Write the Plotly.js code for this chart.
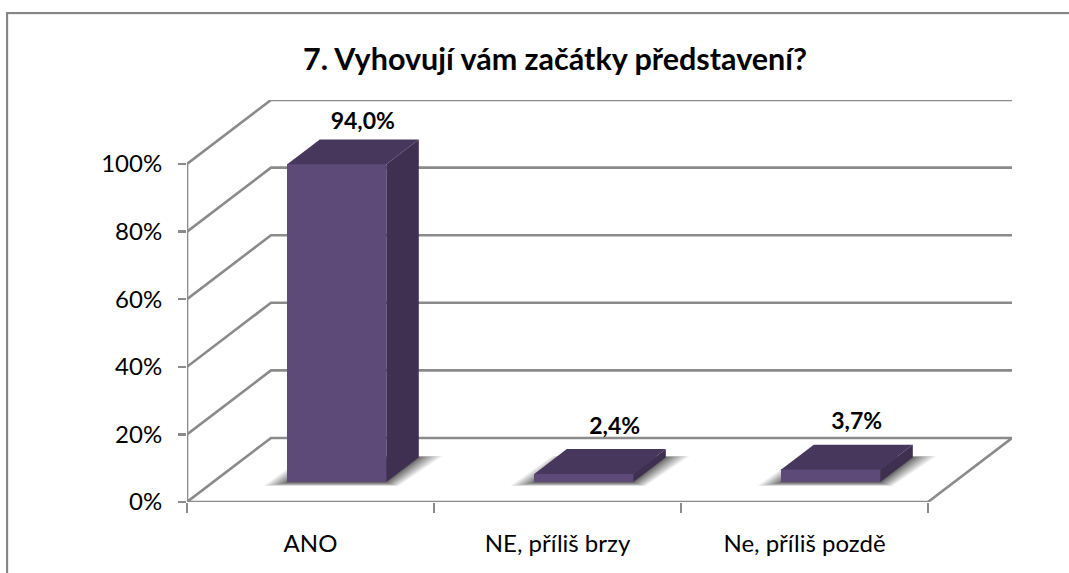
<!DOCTYPE html>
<html><head><meta charset="utf-8">
<script src="https://cdn.plot.ly/plotly-3.0.1.min.js"></script>
<style>html,body{margin:0;padding:0;background:#fff;overflow:hidden}#c{width:1069px;height:573px}</style>
</head><body><div id="c"></div>
<script>
const titleText = "7. Vyhovují vám začátky představení?";
const categories = ["ANO", "NE, příliš brzy", "Ne, příliš pozdě"];
const values = [94.0, 2.4, 3.7];
const yTicks = [0, 20, 40, 60, 80, 100];

// oblique projection, expressed in axis units
const PXX = 1 / 247, PXY = 1 / 3.38;     // axis units per pixel
const DX = 84 * PXX, DY = 64 * PXY;      // wall depth
const BAR_W = 99 * PXX;
const D0 = 0.3125, D1 = 0.70;            // bar position along the depth
const GRID = "#8b8b8b", FRONT = "#5e4a78", TOP = "#48375d", SIDE = "#3f3052";
const pt = (x, y, d) => [x + d * DX, y + d * DY];

const traces = [];
function poly(pts, color, axes) {
  const xs = pts.map(p => p[0]), ys = pts.map(p => p[1]);
  xs.push(xs[0]); ys.push(ys[0]);
  traces.push(Object.assign({type:"scatter", mode:"lines", x:xs, y:ys, fill:"toself", fillcolor:color,
    line:{width:0}, hoverinfo:"skip", showlegend:false, cliponaxis:false}, axes||{}));
}
function line(pts) {
  traces.push({type:"scatter", mode:"lines", x:pts.map(p=>p[0]), y:pts.map(p=>p[1]),
    line:{color:GRID, width:2.6}, hoverinfo:"skip", showlegend:false, cliponaxis:false});
}
// walls and floor
yTicks.forEach(v => line([pt(0,v,0), pt(0,v,1), pt(categories.length,v,1)]));
line([[0,0],[0,100]]);
line([pt(0,0,0), pt(categories.length,0,0), pt(categories.length,0,1)]);

// soft floor shadows
const LAYERS = 16;
categories.forEach((c,i) => {
  const xc = i + 0.5, x0 = xc - BAR_W/2, x1 = xc + BAR_W/2;
  for (let k = 0; k < LAYERS; k++) {
    const f = 1 - k / LAYERS, t = 24 * PXX * Math.pow(f, 1.6), e = 4 * PXY * f;
    const a = pt(x0,0,D0), b = pt(x1,0,D0), c2 = pt(x1,0,D1), d = pt(x0,0,D1);
    poly([[a[0]-t,a[1]-e],[b[0]+t*0.5,b[1]-e],[c2[0]+t,c2[1]+e*0.3],[d[0]-t*0.6,d[1]+e*0.3]], "rgba(0,0,0,0.055)");
  }
});

// bars: front faces through a bar trace, top and side faces as projected polygons
const A2 = {xaxis:"x2", yaxis:"y2"};
traces.push({type:"bar", xaxis:"x2", yaxis:"y2",
  x:categories.map((c,i)=>pt(i+0.5,0,D0)[0]), y:values, base:categories.map(()=>D0*DY),
  width:BAR_W, marker:{color:FRONT, line:{width:0}}, hoverinfo:"skip", showlegend:false});
values.forEach((v,i) => {
  const x0 = i+0.5-BAR_W/2, x1 = i+0.5+BAR_W/2;
  poly([pt(x0,v,D0),pt(x1,v,D0),pt(x1,v,D1),pt(x0,v,D1)], TOP, A2);
  poly([pt(x1,0,D0),pt(x1,v,D0),pt(x1,v,D1),pt(x1,0,D1)], SIDE, A2);
});
// data labels
const labelNudgeX = [0, 5, 0], labelNudgeY = [16, 21, 21];
traces.push({type:"scatter", mode:"text", xaxis:"x2", yaxis:"y2",
  x:values.map((v,i)=>pt(i+0.5,0,D0)[0]+(26+labelNudgeX[i])*PXX),
  y:values.map((v,i)=>pt(0,v,D1)[1]+labelNudgeY[i]*PXY),
  text:values.map(v=>"<b>"+v.toFixed(1).replace(".",",")+"%</b>"),
  textposition:"middle center", textfont:{family:"Lato, sans-serif", size:23, color:"#000"},
  hoverinfo:"skip", showlegend:false, cliponaxis:false});

const xRange = [0, categories.length + DX], yRange = [0, 100 + DY];
const font = {family:"Lato, sans-serif", size:24, color:"#000"};
const layout = {
  width:1069, height:573, autosize:false, showlegend:false, bargap:0,
  paper_bgcolor:"#fff", plot_bgcolor:"rgba(0,0,0,0)",
  margin:{l:187, r:57, t:100, b:71, pad:0},
  font:font,
  title:{text:"<b>"+titleText+"</b>", font:{family:"Lato, sans-serif", size:30.5, color:"#000"},
    xref:"container", yref:"container", x:555/1069, xanchor:"center", y:1-59/573, yanchor:"middle"},
  xaxis:{range:xRange, tickmode:"array", tickvals:categories.map((c,i)=>i+0.5), ticktext:categories,
    showgrid:false, zeroline:false, showline:false, ticks:"", ticklabelstandoff:25, tickfont:font, fixedrange:true},
  yaxis:{range:yRange, tickmode:"array", tickvals:yTicks, ticktext:yTicks.map(v=>v+"%"),
    showgrid:false, zeroline:false, showline:false, ticks:"outside", ticklen:8, tickwidth:2.4, tickcolor:GRID,
    ticklabelstandoff:11, tickfont:font, fixedrange:true},
  xaxis2:{range:xRange, overlaying:"x", anchor:"y", side:"bottom", tickmode:"array", tickvals:categories.map((c,i)=>i).concat(categories.length),
    showticklabels:false, showgrid:false, zeroline:false, showline:false, ticks:"outside", ticklen:10, tickwidth:2.4, tickcolor:GRID, fixedrange:true},
  yaxis2:{range:yRange, overlaying:"y", anchor:"x", showticklabels:false, showgrid:false, zeroline:false, showline:false, ticks:"", fixedrange:true},
  shapes:[
    {type:"line", xref:"paper", yref:"paper", x0:(7-187)/825, x1:(1069-187)/825, y0:(502-14)/402, y1:(502-14)/402, line:{color:"#d9d9d9", width:1}, layer:"below"},
    {type:"line", xref:"paper", yref:"paper", x0:(8-187)/825, x1:(8-187)/825, y0:-71/402, y1:(502-13)/402, line:{color:"#d9d9d9", width:1}, layer:"below"},
    {type:"line", xref:"paper", yref:"paper", x0:(6-187)/825, x1:(1069-187)/825, y0:(502-13)/402, y1:(502-13)/402, line:{color:"#868686", width:2}, layer:"below"},
    {type:"line", xref:"paper", yref:"paper", x0:(7-187)/825, x1:(7-187)/825, y0:-71/402, y1:(502-13)/402, line:{color:"#868686", width:2}, layer:"below"}
  ]
};
Plotly.newPlot("c", traces, layout, {displayModeBar:false, staticPlot:true});
</script></body></html>
